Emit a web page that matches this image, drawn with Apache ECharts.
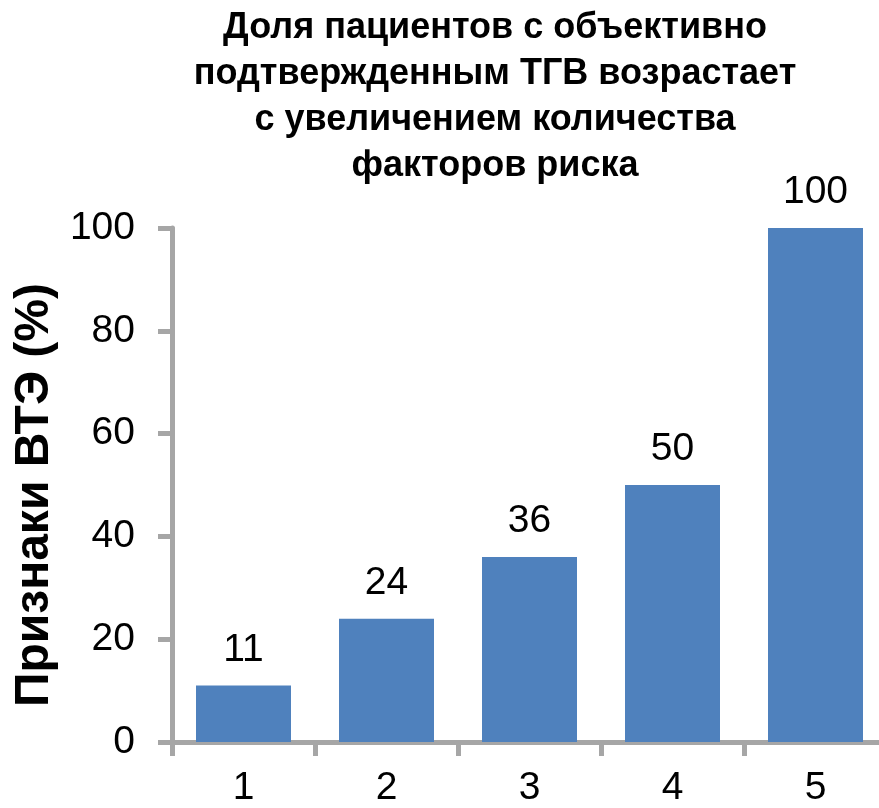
<!DOCTYPE html>
<html><head><meta charset="utf-8">
<script src="https://cdn.jsdelivr.net/npm/echarts@6/dist/echarts.min.js"></script>
<style>html,body{margin:0;padding:0;background:#fff}#c{width:879px;height:808px}</style>
</head><body><div id="c"></div>
<script>
const titleText = 'Доля пациентов с объективно\nподтвержденным ТГВ возрастает\nс увеличением количества\nфакторов риска';
const categories = ['1', '2', '3', '4', '5'];
const values = [11, 24, 36, 50, 100];
const yAxisName = 'Признаки ВТЭ (%)';
const yTicks = [0, 20, 40, 60, 80, 100];

const gray = '#a6a6a6';
const chart = echarts.init(document.getElementById('c'), null, {renderer: 'canvas'});
chart.setOption({
  animation: false,
  backgroundColor: '#fff',
  title: {
    text: titleText,
    left: 490, top: 0, textAlign: 'center',
    textStyle: {fontFamily: 'Liberation Sans', fontWeight: 'bold', fontSize: 36, lineHeight: 46, color: '#000'}
  },
  grid: {left: 172, width: 715, top: 228, bottom: 66, containLabel: false, outerBoundsMode: 'none'},
  xAxis: {
    type: 'category', data: categories,
    axisLine: {lineStyle: {color: gray, width: 5}},
    axisTick: {show: true, length: 14, lineStyle: {color: gray, width: 5}},
    axisLabel: {fontFamily: 'Liberation Sans', fontSize: 39, color: '#000', margin: 27}
  },
  yAxis: {
    type: 'value', min: yTicks[0], max: yTicks[yTicks.length - 1], interval: 20,
    name: yAxisName, nameLocation: 'middle', nameGap: 108, nameRotate: 90,
    nameTextStyle: {fontFamily: 'Liberation Sans', fontWeight: 'bold', fontSize: 48, color: '#000', padding: [0, 20, 0, 0]},
    axisLine: {show: true, lineStyle: {color: gray, width: 5}},
    axisTick: {show: true, length: 14, lineStyle: {color: gray, width: 5}},
    splitLine: {show: false},
    axisLabel: {fontFamily: 'Liberation Sans', fontSize: 39, color: '#000', margin: 37}
  },
  series: [{
    type: 'bar', data: values, barWidth: 95,
    itemStyle: {color: '#4f81bd'},
    label: {show: true, position: 'top', distance: 16, fontFamily: 'Liberation Sans', fontSize: 39, color: '#000'}
  }]
});
</script></body></html>
